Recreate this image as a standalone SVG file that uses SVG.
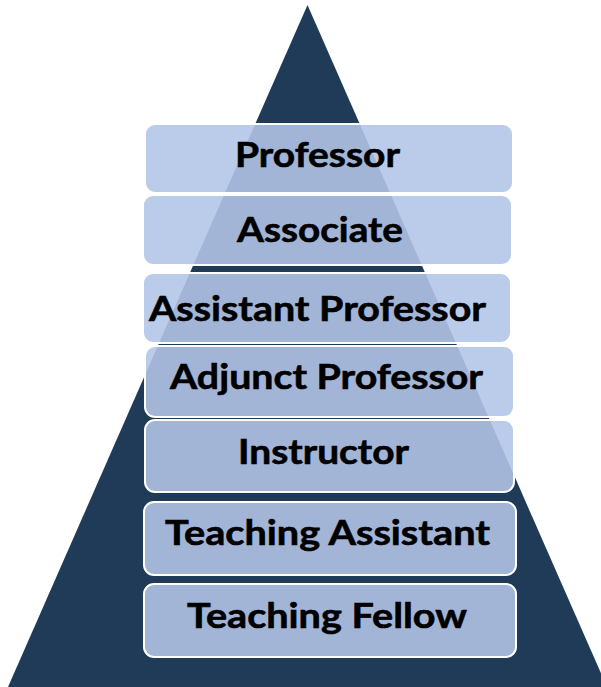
<svg xmlns="http://www.w3.org/2000/svg" width="601" height="687" viewBox="0 0 601 687">
<style>
.box{fill:rgb(179,197,231);fill-opacity:0.89;stroke:#ffffff;stroke-width:2}
.lbl{font-family:Lato,"Open Sans","Liberation Sans",sans-serif;font-weight:bold;font-size:35px;fill:#000000;stroke:#000000;stroke-width:0.6}
</style>
<rect width="601" height="687" fill="#ffffff"/>
<g id="pyramid">
<polygon points="307.5,5 8,687 607,687" fill="#1f3b58"/>
</g>
<g id="connectors"></g>
<g id="n1">
<rect class="box" x="145" y="124" width="368" height="69" rx="10"/>
<text class="lbl" x="235" y="167" textLength="165" lengthAdjust="spacingAndGlyphs">Professor</text>
</g>
<g id="n2">
<rect class="box" x="143" y="195" width="369" height="70" rx="10"/>
<text class="lbl" x="237" y="242" textLength="166" lengthAdjust="spacingAndGlyphs">Associate</text>
</g>
<g id="n3">
<rect class="box" x="143" y="273" width="368" height="70" rx="10"/>
<text class="lbl" x="149" y="321" textLength="337" lengthAdjust="spacingAndGlyphs">Assistant Professor</text>
</g>
<g id="n4">
<rect class="box" x="145" y="346" width="369" height="71" rx="10"/>
<text class="lbl" x="170" y="389" textLength="313" lengthAdjust="spacingAndGlyphs">Adjunct Professor</text>
</g>
<g id="n5">
<rect class="box" x="145" y="420" width="369" height="72" rx="10"/>
<text class="lbl" x="238" y="464" textLength="171" lengthAdjust="spacingAndGlyphs">Instructor</text>
</g>
<g id="n6">
<rect class="box" x="144" y="502" width="372" height="73" rx="10"/>
<text class="lbl" x="165" y="545" textLength="325" lengthAdjust="spacingAndGlyphs">Teaching Assistant</text>
</g>
<g id="n7">
<rect class="box" x="144" y="584" width="372" height="73" rx="10"/>
<text class="lbl" x="187" y="628" textLength="280" lengthAdjust="spacingAndGlyphs">Teaching Fellow</text>
</g>
</svg>
